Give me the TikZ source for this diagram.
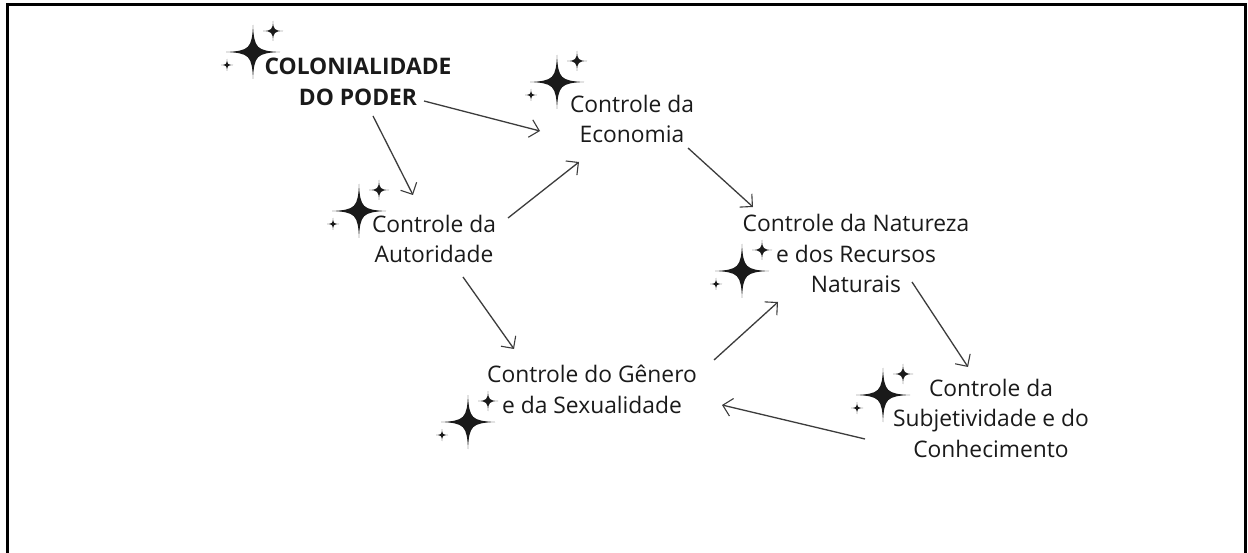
\documentclass[tikz,border=0pt]{standalone}
\usepackage{fontspec}
\setmainfont{Open Sans}
\usetikzlibrary{arrows.meta,calc}
\definecolor{ink}{HTML}{1A1A1A}
\definecolor{lineg}{HTML}{3C3C3C}
\tikzset{
  lbl/.style={align=center, inner sep=0pt, font=\fontsize{22.8}{30.5}\selectfont, text=ink, anchor=base},
  conn/.style={draw=lineg, line width=1.3pt, -{Straight Barb[length=9pt,width=18pt,line width=1.1pt]}},
}
\newcommand\mystar[3]{\fill[ink,shift={(#1,#2)},scale=#3] (0,-1) .. controls (0.04,-0.14) and (0.14,-0.04) .. (1,0) .. controls (0.14,0.04) and (0.04,0.14) .. (0,1) .. controls (-0.04,0.14) and (-0.14,0.04) .. (-1,0) .. controls (-0.14,-0.04) and (-0.04,-0.14) .. cycle;}
\newcommand\sparkles[2]{\mystar{#1}{#2}{27}\mystar{#1+20}{#2-21}{10}\mystar{#1-26}{#2+13}{6}}
\begin{document}
\begin{tikzpicture}[x=1pt,y=-1pt]
\useasboundingbox (0,0) rectangle (1248,553);
\clip (0,0) rectangle (1248,553);
\fill[white] (0,0) rectangle (1248,553);
\draw[line width=3pt] (7,620) -- (7,5) -- (1245.5,5) -- (1245.5,620);

\node[lbl, font=\fontsize{22.8}{31}\selectfont\bfseries] (colon) at (358,106) {COLONIALIDADE\\DO PODER};
\node[lbl] (econ) at (632,143) {Controle da\\Economia};
\node[lbl] (auto) at (434,263) {Controle da\\Autoridade};
\node[lbl] (natu) at (856,293) {Controle da Natureza\\e dos Recursos\\Naturais};
\node[lbl] (subj) at (991,457) {Controle da\\Subjetividade e do\\Conhecimento};
\node[lbl] (gene) at (592,413) {Controle do Gênero\\e da Sexualidade};

\sparkles{253}{52}
\sparkles{557}{82}
\sparkles{359}{211}
\sparkles{742}{271}
\sparkles{883}{395}
\sparkles{468}{422}

\draw[conn] ([shift={(66,-5)}]colon.base) -- ([shift={(-92,-12)}]econ.base);
\draw[conn] ([shift={(15,10)}]colon.base) -- ([shift={(-21,-68)}]auto.base);
\draw[conn] ([shift={(74,-45)}]auto.base) -- ([shift={(-53,19)}]econ.base);
\draw[conn] ([shift={(56,5)}]econ.base) -- ([shift={(-103,-86)}]natu.base);
\draw[conn] ([shift={(29,14)}]auto.base) -- ([shift={(-78,-64)}]gene.base);
\draw[conn] ([shift={(122,-53)}]gene.base) -- ([shift={(-78,9)}]natu.base);
\draw[conn] ([shift={(56,-11)}]natu.base) -- ([shift={(-23,-90)}]subj.base);
\draw[conn] ([shift={(-126,-18)}]subj.base) -- ([shift={(130,-8)}]gene.base);
\end{tikzpicture}
\end{document}
